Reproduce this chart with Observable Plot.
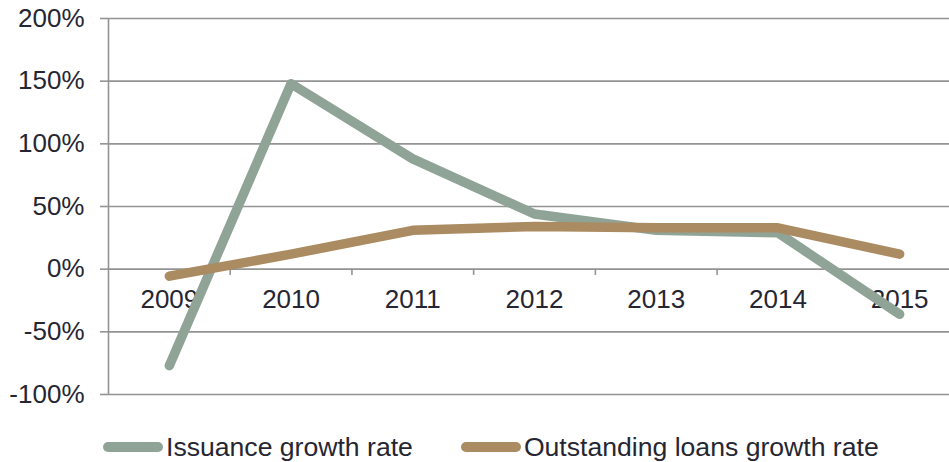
<!DOCTYPE html>
<html>
<head>
<meta charset="utf-8">
<script src="https://cdn.jsdelivr.net/npm/d3@7"></script>
<script src="https://cdn.jsdelivr.net/npm/@observablehq/plot@0.6"></script>
<style>
  body { margin: 0; background: #fff; font-family: "Liberation Sans", Arial, sans-serif; }
  #legend { height: 52px; box-sizing: border-box; padding-top: 21px; padding-left: 103px; display: flex; align-items: center; color: #262633; font-size: 26.6px; line-height: 26px; }
  .item { display: flex; align-items: center; }
  .sw { width: 60px; height: 10px; border-radius: 5px; margin-right: 3px; }
</style>
</head>
<body>
<div id="chart"></div>
<div id="legend"></div>
<script>
const years = [2009, 2010, 2011, 2012, 2013, 2014, 2015];
const issuance = [-0.77, 1.48, 0.88, 0.44, 0.31, 0.29, -0.36];
const outstanding = [-0.056, 0.12, 0.31, 0.34, 0.33, 0.33, 0.12];
const seriesNames = ["Issuance growth rate", "Outstanding loans growth rate"];
const seriesColors = ["#8fa397", "#ab8b61"];
const yTicks = [-1, -0.5, 0, 0.5, 1, 1.5, 2];

const xDomain = [years[0] - 0.5, years[years.length - 1] + 0.5];
const bounds = years.slice(1).map(y => y - 0.5);
const rows = [
  ...years.map((y, i) => ({year: y, value: issuance[i], series: seriesNames[0]})),
  ...years.map((y, i) => ({year: y, value: outstanding[i], series: seriesNames[1]}))
];

const chart = Plot.plot({
  width: 949,
  height: 410,
  marginLeft: 108,
  marginRight: -11,
  marginTop: 18,
  marginBottom: 16,
  style: {fontFamily: "'Liberation Sans', Arial, sans-serif", fontSize: "26px", color: "#262633", background: "#fff", overflow: "hidden"},
  x: {domain: xDomain, axis: null},
  y: {domain: [yTicks[0], yTicks[yTicks.length - 1]], axis: null},
  marks: [
    Plot.gridY(yTicks, {stroke: "#939393", strokeOpacity: 1, strokeWidth: 1.6}),
    Plot.ruleX([xDomain[0]], {y1: yTicks[0], y2: yTicks[yTicks.length - 1], stroke: "#939393", strokeWidth: 1.6}),
    Plot.axisY(yTicks, {tickSize: 8, tickPadding: 16, stroke: "#939393", strokeWidth: 1.6, fill: "#262633", fontSize: 26, tickFormat: d => Math.round(d * 100) + "%", label: null}),
    Plot.ruleX(bounds, {y1: 0, y2: -0.05, stroke: "#939393", strokeWidth: 1.6}),
    Plot.text(years, {x: d => d, y: 0, dy: 31, text: d => String(d), fill: "#262633", fontSize: 26}),
    Plot.line(rows.filter(d => d.series === seriesNames[0]), {x: "year", y: "value", stroke: seriesColors[0], strokeWidth: 9.5, strokeLinecap: "round", strokeLinejoin: "round"}),
    Plot.line(rows.filter(d => d.series === seriesNames[1]), {x: "year", y: "value", stroke: seriesColors[1], strokeWidth: 9.5, strokeLinecap: "round", strokeLinejoin: "round"})
  ]
});
document.getElementById("chart").appendChild(chart);

const legend = document.getElementById("legend");
seriesNames.forEach((name, i) => {
  const item = document.createElement("div");
  item.className = "item";
  if (i > 0) item.style.marginLeft = "48px";
  const sw = document.createElement("span");
  sw.className = "sw";
  sw.style.background = seriesColors[i];
  const label = document.createElement("span");
  label.textContent = name;
  item.appendChild(sw);
  item.appendChild(label);
  legend.appendChild(item);
});
</script>
</body>
</html>
